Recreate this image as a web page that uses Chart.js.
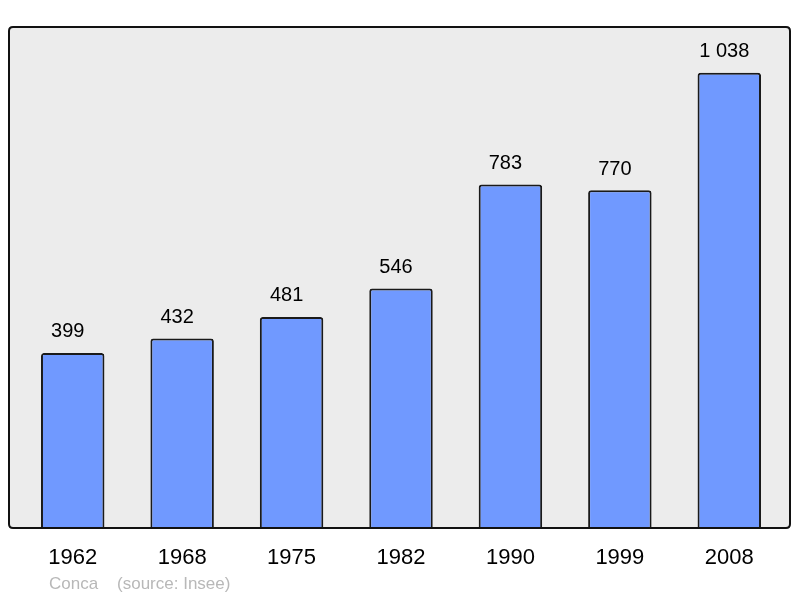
<!DOCTYPE html>
<html>
<head>
<meta charset="utf-8">
<script src="https://cdn.jsdelivr.net/npm/chart.js@4/dist/chart.umd.min.js"></script>
<style>
html,body{margin:0;padding:0;background:#fff;}
#wrap{width:800px;height:598px;position:relative;}
</style>
</head>
<body>
<div id="wrap"><canvas id="c" width="800" height="598"></canvas></div>
<script>
const categories = ["1962", "1968", "1975", "1982", "1990", "1999", "2008"];
const population = [399, 432, 481, 546, 783, 770, 1038];
const valueLabels = ["399", "432", "481", "546", "783", "770", "1 038"];
const footerText = "Conca    (source: Insee)";

function boxPath(ctx, left, top, right, bottom, r) {
  ctx.beginPath();
  ctx.moveTo(left + r, top);
  ctx.lineTo(right - r, top);
  ctx.quadraticCurveTo(right, top, right, top + r);
  ctx.lineTo(right, bottom - r);
  ctx.quadraticCurveTo(right, bottom, right - r, bottom);
  ctx.lineTo(left + r, bottom);
  ctx.quadraticCurveTo(left, bottom, left, bottom - r);
  ctx.lineTo(left, top + r);
  ctx.quadraticCurveTo(left, top, left + r, top);
  ctx.closePath();
}

const bgBox = {
  id: 'bgBox',
  beforeDraw(chart) {
    const ctx = chart.ctx;
    const a = chart.chartArea;
    ctx.save();
    boxPath(ctx, 9, a.top, 790, a.bottom, 4);
    ctx.fillStyle = '#ececec';
    ctx.fill();
    ctx.restore();
  },
  afterDatasetsDraw(chart) {
    const ctx = chart.ctx;
    const a = chart.chartArea;
    ctx.save();
    boxPath(ctx, 9, a.top, 790, a.bottom, 4);
    ctx.lineWidth = 2;
    ctx.strokeStyle = '#111';
    ctx.stroke();

    // value labels
    const meta = chart.getDatasetMeta(0);
    ctx.fillStyle = '#000';
    ctx.font = '20px "Liberation Sans", Arial, sans-serif';
    ctx.textAlign = 'center';
    ctx.textBaseline = 'middle';
    meta.data.forEach((bar, i) => {
      ctx.fillText(valueLabels[i], bar.x - 5, bar.y - 21);
    });

    // footer
    ctx.fillStyle = '#b8b8b8';
    ctx.font = '17px "Liberation Sans", Arial, sans-serif';
    ctx.textAlign = 'left';
    ctx.textBaseline = 'middle';
    ctx.fillText(footerText, 49, 584);
    ctx.restore();
  }
};

new Chart(document.getElementById('c'), {
  type: 'bar',
  data: {
    labels: categories,
    datasets: [{
      data: population,
      backgroundColor: '#7099ff',
      borderColor: '#1a1a1a',
      borderWidth: 2,
      borderSkipped: 'bottom',
      borderRadius: {topLeft: 3, topRight: 3, bottomLeft: 0, bottomRight: 0},
      barPercentage: 0.58,
      categoryPercentage: 1
    }]
  },
  options: {
    responsive: false,
    animation: false,
    devicePixelRatio: 1,
    layout: {padding: {left: 18, right: 16, top: 27, bottom: 0}},
    plugins: {legend: {display: false}, tooltip: {enabled: false}},
    scales: {
      x: {
        grid: {display: false, drawTicks: false},
        border: {display: false},
        ticks: {color: '#000', font: {family: '"Liberation Sans", Arial, sans-serif', size: 22}, padding: 17, maxRotation: 0},
        afterFit(scale) { scale.height = 70; }
      },
      y: {
        display: false,
        min: 0,
        max: 1142
      }
    }
  },
  plugins: [bgBox]
});
</script>
</body>
</html>
